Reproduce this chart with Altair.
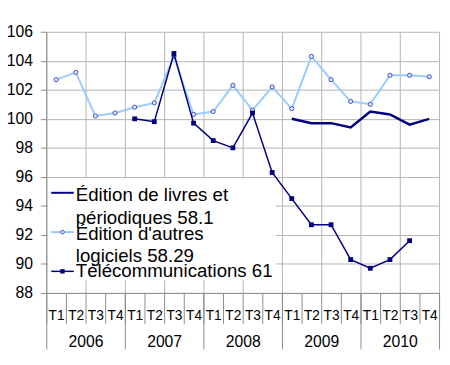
import altair as alt
import pandas as pd

# ---------------- data ----------------
years = ["2006", "2007", "2008", "2009", "2010"]
quarters = ["T1", "T2", "T3", "T4"]
series_names = [
    "Édition de livres et périodiques 58.1",
    "Édition d'autres logiciels 58.29",
    "Télécommunications 61",
]
legend_lines = [
    ["Édition de livres et", "périodiques 58.1"],
    ["Édition d'autres", "logiciels 58.29"],
    ["Télécommunications 61"],
]
livres = [None] * 12 + [100.0, 99.7, 99.7, 99.4, 100.5, 100.3, 99.6, 100.0]
logiciels = [102.7, 103.2, 100.2, 100.4, 100.8, 101.1, 104.3, 100.3, 100.5, 102.3,
             100.6, 102.2, 100.7, 104.3, 102.7, 101.2, 101.0, 103.0, 103.0, 102.9]
telecom = [None] * 4 + [100.0, 99.8, 104.5, 99.7, 98.5, 98.0, 100.4, 96.3, 94.5, 92.7,
                        92.7, 90.3, 89.7, 90.3, 91.6, None]
y_ticks = list(range(88, 107, 2))

rows = []
for name, vals in zip(series_names, [livres, logiciels, telecom]):
    for i, v in enumerate(vals):
        if v is not None:
            rows.append({"serie": name, "pos": i + 0.5, "annee": years[i // 4],
                         "trim": quarters[i % 4], "valeur": v})
df = pd.DataFrame(rows)

# ---------------- style ----------------
FONT = "Liberation Sans"
NAVY = "#000080"
LIGHT = "#99ccff"
GRID = "#b4b4b4"
AXIS = "#8c8c8c"
n_q = len(years) * len(quarters)

xscale = alt.Scale(domain=[0, n_q], nice=False, zero=False)
yscale = alt.Scale(domain=[88, 106], nice=False, zero=False)

y_axis = alt.Axis(values=y_ticks, grid=True, gridColor=GRID, gridWidth=1,
                  domainColor=AXIS, tickColor=AXIS, tickSize=6, labelPadding=8,
                  labelFont=FONT, labelFontSize=16, labelColor="black")


def xenc(axis):
    return alt.X("pos:Q", scale=xscale, axis=axis, title=None)


def yenc():
    return alt.Y("valeur:Q", scale=yscale, axis=y_axis, title=None)


axis_grid = alt.Axis(orient="bottom", values=list(range(0, n_q + 1, 2)), grid=True,
                     gridColor=GRID, gridWidth=1, labels=False, ticks=False, domain=False)
axis_q = alt.Axis(orient="bottom", values=list(range(n_q)), grid=False, ticks=False,
                  domain=True, domainColor=AXIS,
                  labelExpr=f"{quarters}[datum.value % 4]", labelOffset=10,
                  labelAlign="center", labelBaseline="alphabetic", labelPadding=27,
                  labelOverlap=False, labelFlush=False, labelBound=False,
                  labelFont=FONT, labelFontSize=14, labelColor="black")
axis_sep = alt.Axis(orient="bottom", values=list(range(n_q + 1)), grid=False,
                    ticks=True, tickSize=31, tickColor=AXIS, labels=False, domain=False)
axis_ysep = alt.Axis(orient="bottom", values=list(range(0, n_q + 1, 4)), grid=False,
                     ticks=True, tickSize=57, tickColor=AXIS, labels=False, domain=False)
axis_year = alt.Axis(orient="bottom", values=list(range(0, n_q, 4)), grid=False,
                     ticks=False, domain=False,
                     labelExpr=f"{years}[floor(datum.value / 4)]", labelOffset=40,
                     labelAlign="center", labelBaseline="alphabetic", labelPadding=55,
                     labelOverlap=False, labelFlush=False, labelBound=False,
                     labelFont=FONT, labelFontSize=16, labelColor="black")

base = alt.Chart(df)

l_logi = base.mark_line(color=LIGHT, strokeWidth=2).encode(
    x=xenc(axis_grid), y=yenc()
).transform_filter(alt.datum.serie == series_names[1])

p_logi = base.mark_point(shape="circle", size=18, filled=True, fill="#dfe6ff",
                         stroke="#4050c8", strokeWidth=1, opacity=1).encode(
    x=xenc(axis_q), y=yenc()
).transform_filter(alt.datum.serie == series_names[1])

l_livres = base.mark_line(color=NAVY, strokeWidth=2.5).encode(
    x=xenc(axis_sep), y=yenc()
).transform_filter(alt.datum.serie == series_names[0])

l_tel = base.mark_line(color=NAVY, strokeWidth=1.5).encode(
    x=xenc(axis_ysep), y=yenc()
).transform_filter(alt.datum.serie == series_names[2])

p_tel = base.mark_point(shape="square", size=24, filled=True, color=NAVY, opacity=1).encode(
    x=xenc(axis_year), y=yenc()
).transform_filter(alt.datum.serie == series_names[2])

# ---------------- legend (drawn manually) ----------------
one = pd.DataFrame({"k": [0]})
leg_box = alt.Chart(one).mark_rect(fill="white").encode(
    x=alt.value(2), x2=alt.value(234), y=alt.value(149), y2=alt.value(253))

sym_y = [164, 204, 244]
sym_colors = [NAVY, LIGHT, NAVY]
sym_widths = [2, 2, 1.5]
leg_layers = [leg_box]
for k in range(3):
    leg_layers.append(alt.Chart(one).mark_rule(color=sym_colors[k], strokeWidth=sym_widths[k]).encode(
        x=alt.value(5), x2=alt.value(28), y=alt.value(sym_y[k])))
leg_layers.append(alt.Chart(one).mark_point(shape="circle", size=14, filled=True, fill="#dfe6ff",
                                            stroke="#4050c8", strokeWidth=1, opacity=1).encode(
    x=alt.value(16.5), y=alt.value(sym_y[1])))
leg_layers.append(alt.Chart(one).mark_point(shape="square", size=20, filled=True, color=NAVY,
                                            opacity=1).encode(
    x=alt.value(16.5), y=alt.value(sym_y[2])))

text_y = [[172.5, 196], [212, 234.5], [249.5]]
for k in range(3):
    for line, ty in zip(legend_lines[k], text_y[k]):
        leg_layers.append(alt.Chart(one).mark_text(
            align="left", baseline="alphabetic", font=FONT, fontSize=19, color="black"
        ).encode(x=alt.value(30), y=alt.value(ty), text=alt.value(line)))

chart = alt.layer(l_logi, p_logi, l_livres, l_tel, p_tel, *leg_layers).resolve_axis(
    x="independent"
).properties(
    width=400, height=266,
    autosize=alt.AutoSizeParams(type="none"),
    padding={"left": 39, "top": 21, "right": 3, "bottom": 60},
    background="white",
).configure_view(strokeWidth=0)

chart.save("out.html", embed_options={"renderer": "svg", "actions": False})
